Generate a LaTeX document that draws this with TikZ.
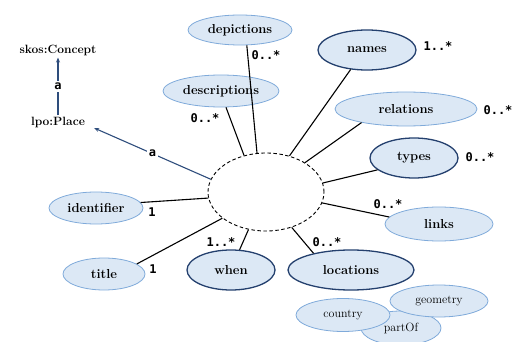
\documentclass[tikz,border=0pt]{standalone}
\usepackage{fontspec}
\newfontfamily\monofont{DejaVu Sans Mono}
\usetikzlibrary{shapes.geometric,arrows.meta}
\definecolor{bubblefill}{HTML}{DCE8F5}
\definecolor{paleedge}{HTML}{7FAADA}
\definecolor{darkedge}{HTML}{24406E}
\definecolor{arrowblue}{HTML}{2E4D7C}
\tikzset{
  x=1pt, y=-1pt,
  bubble/.style={ellipse, inner sep=0pt, fill=bubblefill, draw=paleedge,
    line width=0.8pt, font=\rmfamily\fontsize{13}{13}\selectfont\bfseries},
  keybubble/.style={bubble, draw=darkedge, line width=1.3pt},
  subbubble/.style={bubble, font=\rmfamily\fontsize{12}{12}\selectfont},
  hubshape/.style={ellipse, inner sep=0pt, draw, dashed,
    dash pattern=on 3.5pt off 2.5pt, line width=0.9pt,
    minimum width=116pt, minimum height=78pt},
  link/.style={line width=1.1pt, black},
  card/.style={font=\monofont\fontsize{12}{12}\selectfont\bfseries, inner sep=0pt},
  classlabel/.style={font=\rmfamily\fontsize{12}{12}\selectfont\bfseries, inner sep=2pt},
  typeof/.style={line width=1.1pt, arrowblue, -{Stealth[length=5pt,width=4pt]}},
  alabel/.style={font=\monofont\fontsize{12}{12}\selectfont\bfseries,
    fill=white, text=black, inner sep=2pt},
}
\begin{document}
\begin{tikzpicture}
\useasboundingbox (0,0) rectangle (517,342);

% central resource
\node[hubshape] (hub) at (266,192) {};

% property bubbles
\node[bubble, minimum width=104pt, minimum height=30pt] (depictions) at (240,30) {depictions};
\node[bubble, minimum width=116pt, minimum height=32pt] (descriptions) at (221,91) {descriptions};
\node[keybubble, minimum width=98pt, minimum height=40pt] (names) at (367,50) {names};
\node[bubble, minimum width=142pt, minimum height=34pt] (relations) at (406,109) {relations};
\node[keybubble, minimum width=88pt, minimum height=40pt] (types) at (414,158) {types};
\node[bubble, minimum width=108pt, minimum height=34pt] (links) at (439,224) {links};
\node[keybubble, minimum width=126pt, minimum height=40pt] (locations) at (351,270) {locations};
\node[keybubble, minimum width=88pt, minimum height=40pt] (when) at (231,270) {when};
\node[bubble, minimum width=82pt, minimum height=32pt] (title) at (104,274) {title};
\node[bubble, minimum width=94pt, minimum height=32pt] (identifier) at (96,208) {identifier};

% location sub-properties
\node[subbubble, minimum width=80pt, minimum height=34pt] (partOf) at (401,328) {partOf};
\node[subbubble, minimum width=98pt, minimum height=32pt] (geometry) at (439,301) {geometry};
\node[subbubble, minimum width=94pt, minimum height=33pt] (country) at (343,315) {country};

% class labels
\node[classlabel] (concept) at (58,50) {skos:Concept};
\node[classlabel] (place) at (58,123) {lpo:Place};

% connectors to the hub
\draw[link] (depictions.-66) -- (hub.103);
\draw[link] (descriptions.-73) -- (hub.121);
\draw[link] (names.230) -- (hub.57);
\draw[link] (relations.197) -- (hub.37);
\draw[link] (types.198) -- (hub.9);
\draw[link] (links.172) -- (hub.-11);
\draw[link] (locations.156) -- (hub.-54);
\draw[link] (when.67) -- (hub.245);
\draw[link] (title.17) -- (hub.211);
\draw[link] (identifier.7) -- (hub.186);

% rdf:type arrows
\draw[typeof] (hub.167) -- node[alabel] {a} ([xshift=7pt,yshift=-5pt]place.east);
\draw[typeof] (place.north) -- node[alabel] {a} (concept.south);

% cardinalities
\node[card] (c1) at (266,55) {0..*};
\node[card] (c2) at (205,118) {0..*};
\node[card] (c3) at (438,46) {1..*};
\node[card] (c4) at (498,110) {0..*};
\node[card] (c5) at (480,157) {0..*};
\node[card] (c6) at (388,204) {0..*};
\node[card] (c7) at (327,242) {0..*};
\node[card] (c8) at (221,242) {1..*};
\node[card] (c9) at (152,212) {1};
\node[card] (c10) at (153,269) {1};
\end{tikzpicture}
\end{document}
